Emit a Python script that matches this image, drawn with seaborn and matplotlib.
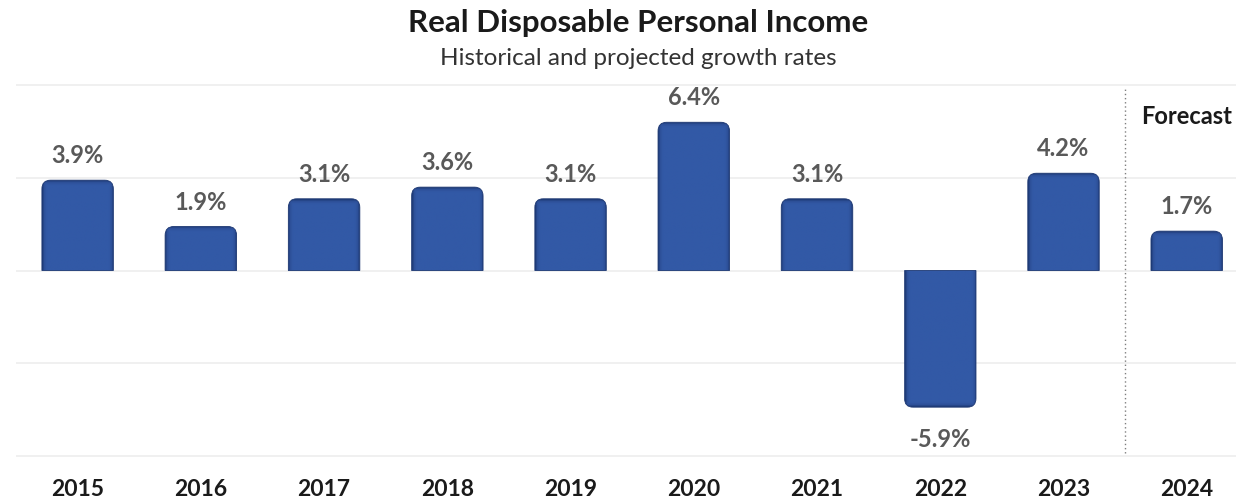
import numpy as np
import pandas as pd
import matplotlib
matplotlib.use("Agg")
import matplotlib.pyplot as plt
import seaborn as sns
from matplotlib.path import Path
from matplotlib.patches import PathPatch

# datos
anios = ["2015", "2016", "2017", "2018", "2019", "2020", "2021", "2022", "2023", "2024"]
crecimiento = [3.9, 1.9, 3.1, 3.6, 3.1, 6.4, 3.1, -5.9, 4.2, 1.7]
etiquetas = ["3.9%", "1.9%", "3.1%", "3.6%", "3.1%", "6.4%", "3.1%", "-5.9%", "4.2%", "1.7%"]

df = pd.DataFrame({"Anio": anios, "Crecimiento": crecimiento})

sns.set_style("white")
plt.rcParams["font.family"] = ["Lato", "DejaVu Sans"]

fig = plt.figure(figsize=(12.36, 5.02), dpi=100)
ax = fig.add_axes([16 / 1236, 0.0876, 1 - 16 / 1236, 0.743])

sns.barplot(data=df, x="Anio", y="Crecimiento", color="#3158A5", width=0.58, ax=ax)

ax.set_xlim(-0.5, 9.4)
ax.set_ylim(-8.05, 8.05)
ax.set_yticks([-8, -4, 0, 4, 8])
ax.yaxis.grid(True, color="#EDEDED", linewidth=1.2)
ax.set_axisbelow(True)
ax.set_yticklabels([])
ax.tick_params(axis="y", length=0)
ax.tick_params(axis="x", length=0, pad=15, labelsize=16.5)
for lbl in ax.get_xticklabels():
    lbl.set_fontweight("bold")
    lbl.set_color("#1A1A1A")
ax.set_xlabel("")
ax.set_ylabel("")
sns.despine(ax=ax, left=True, bottom=True)

# barras redondeadas con borde biselado
rx, ry = 0.07, 0.38
cmap = matplotlib.colors.LinearSegmentedColormap.from_list("azul", ["#1C3772", "#2E519A", "#3259A6"])
px_x, px_y = 123.3, 22.8  # pixeles por unidad
for p in list(ax.patches):
    x0, w, h = p.get_x(), p.get_width(), p.get_height()
    x1 = x0 + w
    s = 1 if h >= 0 else -1
    verts = [(x0, 0), (x0, h - s * ry), (x0, h), (x0 + rx, h), (x1 - rx, h),
             (x1, h), (x1, h - s * ry), (x1, 0), (x0, 0)]
    codes = [Path.MOVETO, Path.LINETO, Path.CURVE3, Path.CURVE3, Path.LINETO,
             Path.CURVE3, Path.CURVE3, Path.LINETO, Path.CLOSEPOLY]
    forma = PathPatch(Path(verts, codes), facecolor="none", edgecolor="#1C3772",
                      linewidth=0.6, zorder=3)
    ax.add_patch(forma)
    nx = int(w * px_x)
    ny = max(int(abs(h) * px_y), 2)
    xx = np.arange(nx) + 0.5
    yy = np.arange(ny) + 0.5  # fila 0 = extremo redondeado
    dx = np.minimum(xx, nx - xx)[np.newaxis, :]
    dy = yy[:, np.newaxis]
    d = np.clip(np.minimum(dx, dy) / 5.0, 0, 1)
    if s > 0:
        ext = [x0, x1, 0, h]
        orig = "upper"
    else:
        ext = [x0, x1, h, 0]
        orig = "lower"
    img = ax.imshow(d, cmap=cmap, vmin=0, vmax=1, aspect="auto", origin=orig,
                    extent=ext, zorder=2.5, interpolation="bilinear")
    img.set_clip_path(forma)
    p.set_visible(False)

ax.set_xlim(-0.5, 9.4)
ax.set_ylim(-8.05, 8.05)

# etiquetas de valores
for i, (v, t) in enumerate(zip(crecimiento, etiquetas)):
    off = 1.1 if v >= 0 else -1.35
    ax.text(i, v + off, t, ha="center", va="center", fontsize=17,
            fontweight="bold", color="#595959")

# separador de pronostico
ax.axvline(8.5, color="#7F7F7F", linestyle=(0, (1, 2)), linewidth=1.0, ymin=0.01, ymax=0.99)
ax.text(8.63, 6.7, "Forecast", ha="left", va="center", fontsize=17,
        fontweight="bold", color="#1A1A1A")

# titulos
cx = 638 / 1236
fig.text(cx, 0.955, "Real Disposable Personal Income", ha="center", va="center",
         fontsize=22.5, fontweight="bold", color="#1A1A1A")
fig.text(cx, 0.884, "Historical and projected growth rates", ha="center", va="center",
         fontsize=17.5, color="#333333")

plt.savefig("out.png", dpi=100)
